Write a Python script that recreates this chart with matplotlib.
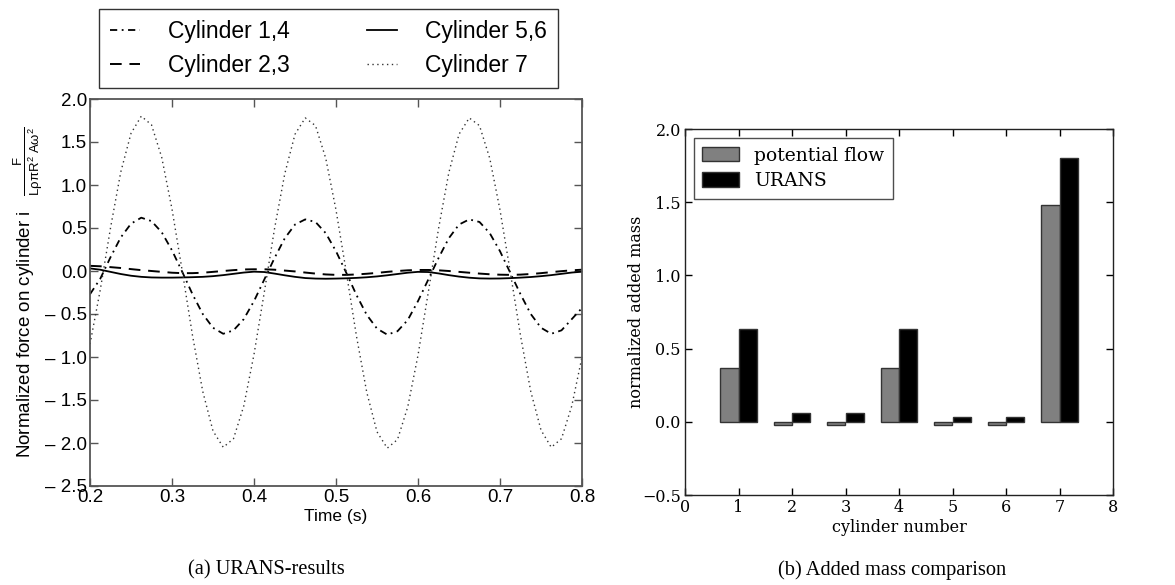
"""URANS force history and added-mass comparison, two panels side by side."""

import matplotlib
matplotlib.use("Agg")
import matplotlib.pyplot as plt
import numpy as np

plt.rcParams["mathtext.fontset"] = "custom"
plt.rcParams["mathtext.rm"] = "Liberation Sans"
plt.rcParams["mathtext.it"] = "Liberation Sans"

# (a) force on each cylinder, every 0.0125 s
time_s = [
    0.2000, 0.2125, 0.2250, 0.2375, 0.2500, 0.2625, 0.2750, 0.2875,
    0.3000, 0.3125, 0.3250, 0.3375, 0.3500, 0.3625, 0.3750, 0.3875,
    0.4000, 0.4125, 0.4250, 0.4375, 0.4500, 0.4625, 0.4750, 0.4875,
    0.5000, 0.5125, 0.5250, 0.5375, 0.5500, 0.5625, 0.5750, 0.5875,
    0.6000, 0.6125, 0.6250, 0.6375, 0.6500, 0.6625, 0.6750, 0.6875,
    0.7000, 0.7125, 0.7250, 0.7375, 0.7500, 0.7625, 0.7750, 0.7875,
    0.8000,
]
cyl_1_4 = [
    -0.27, -0.09, 0.16, 0.39, 0.55, 0.62, 0.58, 0.45,
    0.24, -0.01, -0.27, -0.50, -0.66, -0.73, -0.69, -0.56,
    -0.35, -0.10, 0.15, 0.38, 0.54, 0.60, 0.57, 0.44,
    0.23, -0.02, -0.28, -0.51, -0.67, -0.74, -0.70, -0.57,
    -0.35, -0.10, 0.15, 0.38, 0.54, 0.60, 0.57, 0.44,
    0.23, -0.02, -0.27, -0.50, -0.66, -0.73, -0.69, -0.56,
    -0.43,
]
cyl_2_3 = [
    0.060, 0.055, 0.045, 0.035, 0.022, 0.010, 0.000, -0.010,
    -0.020, -0.025, -0.025, -0.020, -0.010, 0.000, 0.010, 0.018,
    0.020, 0.020, 0.015, 0.005, -0.005, -0.018, -0.030, -0.040,
    -0.045, -0.045, -0.040, -0.032, -0.022, -0.010, 0.000, 0.008,
    0.012, 0.012, 0.008, 0.000, -0.010, -0.020, -0.030, -0.038,
    -0.043, -0.045, -0.042, -0.035, -0.025, -0.013, -0.002, 0.008,
    0.015,
]
cyl_5_6 = [
    0.030, 0.015, -0.010, -0.035, -0.055, -0.068, -0.075, -0.077,
    -0.077, -0.075, -0.072, -0.068, -0.060, -0.048, -0.033, -0.018,
    -0.008, -0.012, -0.030, -0.050, -0.068, -0.082, -0.088, -0.090,
    -0.088, -0.085, -0.080, -0.073, -0.063, -0.050, -0.035, -0.020,
    -0.010, -0.012, -0.028, -0.048, -0.065, -0.078, -0.086, -0.088,
    -0.087, -0.083, -0.077, -0.070, -0.060, -0.048, -0.033, -0.018,
    -0.008,
]
cyl_7 = [
    -0.85, -0.22, 0.50, 1.15, 1.60, 1.80, 1.70, 1.32,
    0.72, 0.00, -0.75, -1.40, -1.86, -2.05, -1.95, -1.57,
    -0.97, -0.25, 0.49, 1.13, 1.59, 1.78, 1.69, 1.31,
    0.71, -0.01, -0.76, -1.41, -1.87, -2.06, -1.96, -1.58,
    -0.98, -0.25, 0.49, 1.14, 1.59, 1.78, 1.69, 1.31,
    0.71, -0.01, -0.75, -1.40, -1.85, -2.05, -1.95, -1.57,
    -1.00,
]
force_yticks = [2.0, 1.5, 1.0, 0.5, 0.0, -0.5, -1.0, -1.5, -2.0, -2.5]
force_yticklabels = ["2.0", "1.5", "1.0", "0.5", "0.0",
                     "\u2013 0.5", "\u2013 1.0", "\u2013 1.5", "\u2013 2.0", "\u2013 2.5"]

# (b) normalized added mass per cylinder
cylinders = [1, 2, 3, 4, 5, 6, 7]
potential_flow = [0.365, -0.02, -0.02, 0.365, -0.02, -0.02, 1.48]
urans = [0.635, 0.06, 0.06, 0.635, 0.03, 0.03, 1.80]

W, H = 1175, 585
fig = plt.figure(figsize=(W / 100, H / 100), dpi=100)

SANS = "Liberation Sans"
SERIF = "DejaVu Serif"

# ---- panel (a) ----
ax1 = fig.add_axes([90 / W, 1 - 486 / H, (582 - 90) / W, (486 - 99) / H])
l14, = ax1.plot(time_s, cyl_1_4, color="k", lw=1.3, ls=(0, (4, 2.5, 1, 2.5)))
l23, = ax1.plot(time_s, cyl_2_3, color="k", lw=1.4, ls=(0, (6, 4)))
l56, = ax1.plot(time_s, cyl_5_6, color="k", lw=1.3, ls="-")
l7, = ax1.plot(time_s, cyl_7, color="#333333", lw=1.0, ls=(0, (1, 2.5)))

ax1.set_xlim(0.2, 0.8)
ax1.set_ylim(-2.5, 2.0)
ax1.set_xticks([0.2, 0.3, 0.4, 0.5, 0.6, 0.7, 0.8])
ax1.set_xticklabels(["0.2", "0.3", "0.4", "0.5", "0.6", "0.7", "0.8"], family=SANS, fontsize=13.5)
ax1.set_yticks(force_yticks)
ax1.set_yticklabels(force_yticklabels, family=SANS, fontsize=13.5)
ax1.tick_params(direction="in", top=True, right=True, length=6, width=1,
                color="#555555", pad=2)
for sp in ax1.spines.values():
    sp.set_color("#555555")
    sp.set_linewidth(1.3)
ax1.set_xlabel("Time (s)", family=SANS, fontsize=12.5, labelpad=2)
ax1.set_ylabel(r"Normalized force on cylinder i   $\frac{\mathrm{F}}{\mathrm{L\rho\pi R^2\ A\omega^2}}$",
               family=SANS, fontsize=13.5, labelpad=0)

fig.legend([l14, l23, l56, l7], ["Cylinder 1,4", "Cylinder 2,3", "Cylinder 5,6", "Cylinder 7"],
           ncol=2, loc="lower left", bbox_to_anchor=(99 / W, 1 - 88 / H),
           prop={"family": SANS, "size": 16.5}, frameon=True, fancybox=False,
           edgecolor="k", borderpad=0.5, handlelength=1.3, handletextpad=1.2,
           columnspacing=3.4, labelspacing=0.45, borderaxespad=0)

fig.text(266 / W, 1 - 570 / H, "(a) URANS-results", ha="center", va="center",
         family="Liberation Serif", fontsize=14.7)

# ---- panel (b) ----
ax2 = fig.add_axes([685 / W, 1 - 495 / H, (1113 - 685) / W, (495 - 129) / H])
x = np.array(cylinders, dtype=float)
bw = 0.34
ax2.bar(x - bw, potential_flow, bw, align="edge", color="#808080",
        edgecolor="#333333", lw=1, label="potential flow")
ax2.bar(x, urans, bw, align="edge", color="k", edgecolor="#333333", lw=1, label="URANS")
ax2.set_xlim(0, 8)
ax2.set_ylim(-0.5, 2.0)
ax2.set_xticks(range(0, 9))
ax2.set_yticks([-0.5, 0.0, 0.5, 1.0, 1.5, 2.0])
for lab in ax2.get_xticklabels() + ax2.get_yticklabels():
    lab.set_family(SERIF)
    lab.set_fontsize(11.5)
ax2.tick_params(direction="in", top=True, right=True, length=5, width=1, pad=3)
for sp in ax2.spines.values():
    sp.set_color("#222222")
    sp.set_linewidth(1.0)
ax2.set_xlabel("cylinder number", family=SERIF, fontsize=11.5, labelpad=2)
ax2.set_ylabel("normalized added mass", family=SERIF, fontsize=11.5, labelpad=-2)
ax2.legend(loc="upper left", bbox_to_anchor=(0.02, 0.975), borderaxespad=0,
           prop={"family": SERIF, "size": 13.5}, fancybox=False, edgecolor="#222222",
           handlelength=2.0, handleheight=0.8, handletextpad=0.8,
           borderpad=0.45, labelspacing=0.4)

fig.text(892 / W, 1 - 570 / H, "(b) Added mass comparison", ha="center", va="center",
         family="Liberation Serif", fontsize=14.7)

fig.savefig("out.png", dpi=100)
